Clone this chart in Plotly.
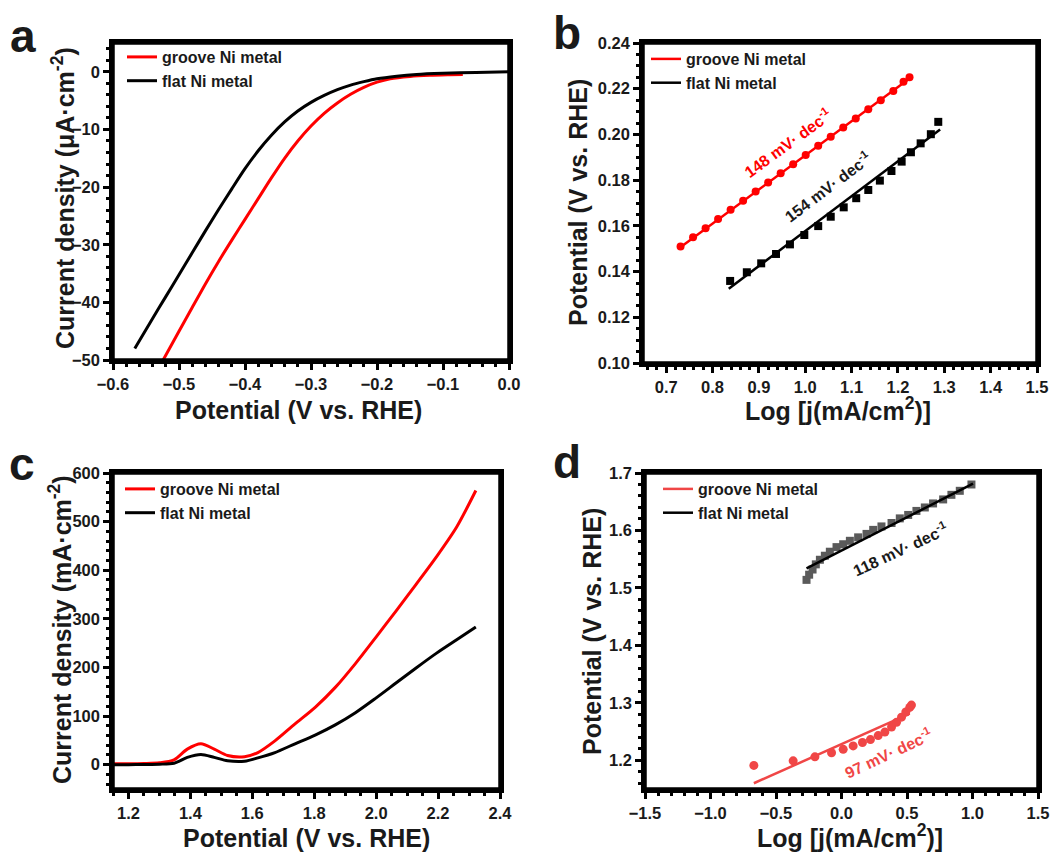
import plotly.graph_objects as go

W, H = 1064, 854

# ---------------- data ----------------
# panel a (HER LSV)
a_groove_x = [-0.524, -0.50, -0.48, -0.46, -0.44, -0.42, -0.40, -0.38, -0.36, -0.34, -0.32, -0.30, -0.28, -0.26, -0.24, -0.22, -0.20, -0.18, -0.15, -0.12, -0.09, -0.07]
a_groove_y = [-50.0, -45.0, -40.9, -36.8, -32.9, -29.2, -25.6, -22.0, -18.4, -15.0, -12.0, -9.4, -7.2, -5.4, -3.9, -2.7, -1.8, -1.2, -0.8, -0.6, -0.5, -0.45]
a_flat_x = [-0.567, -0.54, -0.52, -0.50, -0.48, -0.46, -0.44, -0.42, -0.40, -0.38, -0.36, -0.34, -0.32, -0.30, -0.28, -0.26, -0.24, -0.22, -0.20, -0.17, -0.14, -0.10, -0.05, 0.0]
a_flat_y = [-48.0, -42.8, -39.0, -35.2, -31.4, -27.6, -23.9, -20.3, -16.8, -13.7, -11.0, -8.7, -6.8, -5.3, -4.1, -3.1, -2.3, -1.7, -1.2, -0.75, -0.45, -0.25, -0.1, 0.0]

# panel b (HER Tafel)
b_groove_x = [0.731, 0.758, 0.785, 0.812, 0.839, 0.866, 0.893, 0.920, 0.947, 0.974, 1.001, 1.028, 1.055, 1.082, 1.109, 1.136, 1.163, 1.190, 1.212, 1.225]
b_groove_y = [0.151, 0.155, 0.159, 0.163, 0.167, 0.171, 0.175, 0.179, 0.183, 0.187, 0.191, 0.195, 0.199, 0.203, 0.207, 0.211, 0.215, 0.219, 0.223, 0.225]
b_groove_fit_x = [0.73, 1.225]
b_groove_fit_y = [0.1505, 0.2245]
b_flat_x = [0.838, 0.874, 0.905, 0.937, 0.967, 0.998, 1.028, 1.055, 1.083, 1.110, 1.136, 1.161, 1.186, 1.208, 1.228, 1.249, 1.271, 1.287]
b_flat_y = [0.1359, 0.1397, 0.1436, 0.1477, 0.1519, 0.1560, 0.1599, 0.1640, 0.1681, 0.1721, 0.1757, 0.1798, 0.1840, 0.1881, 0.1922, 0.1961, 0.2001, 0.2055]
b_flat_fit_x = [0.835, 1.291]
b_flat_fit_y = [0.1325, 0.2022]

# panel c (OER LSV)
c_groove_x = [1.14, 1.20, 1.25, 1.30, 1.347, 1.39, 1.434, 1.477, 1.52, 1.575, 1.618, 1.673, 1.738, 1.803, 1.868, 1.933, 1.999, 2.064, 2.129, 2.194, 2.26, 2.322]
c_groove_y = [2, 2, 2.5, 4, 10, 32, 43, 32, 19, 16.5, 25, 49, 84, 118, 159, 208, 262, 316, 371, 427, 489, 564]
c_flat_x = [1.14, 1.20, 1.25, 1.30, 1.347, 1.39, 1.434, 1.477, 1.52, 1.575, 1.618, 1.673, 1.738, 1.803, 1.868, 1.933, 1.999, 2.064, 2.129, 2.194, 2.26, 2.322]
c_flat_y = [0, 0, 0.5, 1, 3, 15, 21, 15, 8, 7, 14, 25, 43, 61, 82, 107, 137, 168, 199, 229, 257, 283]

# panel d (OER Tafel)
d_groove_x = [-0.669, -0.369, -0.203, -0.076, 0.013, 0.089, 0.160, 0.221, 0.280, 0.331, 0.382, 0.420, 0.458, 0.491, 0.521, 0.534]
d_groove_y = [1.191, 1.199, 1.206, 1.213, 1.219, 1.225, 1.231, 1.236, 1.243, 1.249, 1.258, 1.266, 1.275, 1.284, 1.292, 1.296]
d_groove_fit_x = [-0.669, 0.521]
d_groove_fit_y = [1.160, 1.281]
d_flat_x = [-0.267, -0.247, -0.221, -0.196, -0.165, -0.127, -0.089, -0.038, 0.013, 0.064, 0.127, 0.191, 0.242, 0.305, 0.382, 0.445, 0.509, 0.572, 0.636, 0.699, 0.776, 0.839, 0.903, 0.992]
d_flat_y = [1.514, 1.523, 1.532, 1.541, 1.549, 1.556, 1.563, 1.571, 1.576, 1.582, 1.588, 1.594, 1.601, 1.607, 1.613, 1.621, 1.627, 1.634, 1.640, 1.647, 1.654, 1.662, 1.669, 1.680]
d_flat_fit_x = [-0.267, 1.004]
d_flat_fit_y = [1.534, 1.6815]

labels = ["groove Ni metal", "flat Ni metal"]

# ---------------- style ----------------
FONT = "Liberation Sans, Arial, sans-serif"
RED = "#ff0000"
RED_D = "#f04646"
GREY_D = "#5a5a5a"
INK = "#1a1a1a"


def px_x(p):
    return p / W


def px_y(p):
    return 1 - p / H


fig = go.Figure()

# panel a
fig.add_trace(go.Scatter(x=a_groove_x, y=a_groove_y, mode="lines", line=dict(color=RED, width=3, shape="spline", smoothing=0.8),
                         name=labels[0], xaxis="x", yaxis="y", legend="legend"))
fig.add_trace(go.Scatter(x=a_flat_x, y=a_flat_y, mode="lines", line=dict(color="black", width=3, shape="spline", smoothing=0.8),
                         name=labels[1], xaxis="x", yaxis="y", legend="legend"))
# panel b
fig.add_trace(go.Scatter(x=b_groove_x, y=b_groove_y, mode="markers", marker=dict(color=RED, size=8, symbol="circle"),
                         showlegend=False, xaxis="x2", yaxis="y2"))
fig.add_trace(go.Scatter(x=b_groove_fit_x, y=b_groove_fit_y, mode="lines", line=dict(color=RED, width=2.5),
                         name=labels[0], xaxis="x2", yaxis="y2", legend="legend2"))
fig.add_trace(go.Scatter(x=b_flat_x, y=b_flat_y, mode="markers", marker=dict(color="black", size=8, symbol="square"),
                         showlegend=False, xaxis="x2", yaxis="y2"))
fig.add_trace(go.Scatter(x=b_flat_fit_x, y=b_flat_fit_y, mode="lines", line=dict(color="black", width=2.5),
                         name=labels[1], xaxis="x2", yaxis="y2", legend="legend2"))
# panel c
fig.add_trace(go.Scatter(x=c_groove_x, y=c_groove_y, mode="lines", line=dict(color=RED, width=3, shape="spline", smoothing=0.8),
                         name=labels[0], xaxis="x3", yaxis="y3", legend="legend3"))
fig.add_trace(go.Scatter(x=c_flat_x, y=c_flat_y, mode="lines", line=dict(color="black", width=3, shape="spline", smoothing=0.8),
                         name=labels[1], xaxis="x3", yaxis="y3", legend="legend3"))
# panel d
fig.add_trace(go.Scatter(x=d_groove_x, y=d_groove_y, mode="markers", marker=dict(color=RED_D, size=9, symbol="circle"),
                         showlegend=False, xaxis="x4", yaxis="y4"))
fig.add_trace(go.Scatter(x=d_groove_fit_x, y=d_groove_fit_y, mode="lines", line=dict(color=RED_D, width=2.5),
                         name=labels[0], xaxis="x4", yaxis="y4", legend="legend4"))
fig.add_trace(go.Scatter(x=d_flat_x, y=d_flat_y, mode="markers", marker=dict(color=GREY_D, size=8, symbol="square"),
                         showlegend=False, xaxis="x4", yaxis="y4"))
fig.add_trace(go.Scatter(x=d_flat_fit_x, y=d_flat_fit_y, mode="lines", line=dict(color="black", width=2.5),
                         name=labels[1], xaxis="x4", yaxis="y4", legend="legend4"))


def ax(domain, rng, dtick, tick0, fmt, anchor):
    return dict(domain=domain, range=rng, dtick=dtick, tick0=tick0, tickformat=fmt, anchor=anchor,
                showline=True, linecolor="black", linewidth=3.5, mirror=True,
                ticks="outside", ticklen=6, tickwidth=2.5, tickcolor="black",
                minor=dict(ticks="outside", ticklen=3.5, tickwidth=2.5, tickcolor="black", showgrid=False),
                showgrid=False, zeroline=False, automargin=False,
                tickfont=dict(family=FONT, size=16.5, color=INK, weight="bold"))


boxes = {
    "a": (113, 509, 43, 360),
    "b": (643, 1037, 43, 363),
    "c": (113, 500, 473, 789),
    "d": (645, 1038, 473, 789),
}


def dom(b):
    l, r, t, bt = b
    return [px_x(l), px_x(r)], [px_y(bt), px_y(t)]


xa, ya = dom(boxes["a"])
xb, yb = dom(boxes["b"])
xc, yc = dom(boxes["c"])
xd, yd = dom(boxes["d"])

legend_common = dict(bgcolor="rgba(0,0,0,0)", borderwidth=0, xanchor="left", yanchor="top",
                     font=dict(family=FONT, size=16, color=INK, weight="bold"),
                     tracegroupgap=0, itemwidth=30)

fig.update_layout(
    template="none",
    width=W, height=H, margin=dict(l=0, r=0, t=0, b=0, autoexpand=False),
    paper_bgcolor="white", plot_bgcolor="white",
    font=dict(family=FONT, color="black"),
    xaxis=ax(xa, [-0.6, 0.0], 0.1, 0, ".1f", "y"),
    yaxis=ax(ya, [-50, 5], 10, 0, "d", "x"),
    xaxis2=ax(xb, [0.65, 1.5], 0.1, 0.7, ".1f", "y2"),
    yaxis2=ax(yb, [0.10, 0.24], 0.02, 0.10, ".2f", "x2"),
    xaxis3=ax(xc, [1.15, 2.4], 0.2, 1.2, ".1f", "y3"),
    yaxis3=ax(yc, [-50, 600], 100, 0, "d", "x3"),
    xaxis4=ax(xd, [-1.5, 1.5], 0.5, 0, ".1f", "y4"),
    yaxis4=ax(yd, [1.15, 1.7], 0.1, 1.2, ".1f", "x4"),
    legend=dict(x=px_x(122), y=px_y(40), **legend_common),
    legend2=dict(x=px_x(646), y=px_y(42), **legend_common),
    legend3=dict(x=px_x(120), y=px_y(472), **legend_common),
    legend4=dict(x=px_x(658), y=px_y(472), **legend_common),
)

# heavy frame around each plot area
shapes = []
for xr, yr in [("x", "y"), ("x2", "y2"), ("x3", "y3"), ("x4", "y4")]:
    shapes.append(dict(type="rect", xref=f"{xr} domain", yref=f"{yr} domain", x0=0, x1=1, y0=0, y1=1,
                       line=dict(color="black", width=3.5), fillcolor="rgba(0,0,0,0)", layer="above"))
fig.update_layout(shapes=shapes)

ann = []


def text(x, y, s, size=25, angle=0, color=INK, xanchor="center", yanchor="middle"):
    ann.append(dict(x=px_x(x), y=px_y(y), xref="paper", yref="paper", text=s, showarrow=False,
                    textangle=angle, xanchor=xanchor, yanchor=yanchor,
                    font=dict(family=FONT, size=size, color=color, weight="bold")))


# axis titles
text(298, 410, "Potential (V vs. RHE)")
text(63, 198, "Current density (μA·cm<sup>-2</sup>)", angle=-90)
text(838, 409, "Log [j(mA/cm<sup>2</sup>)]")
text(578, 203, "Potential (V vs. RHE)", angle=-90)
text(306, 838, "Potential (V vs. RHE)")
text(60, 630, "Current density (mA·cm<sup>-2</sup>)", angle=-90)
text(850, 836, "Log [j(mA/cm<sup>2</sup>)]")
text(592, 632, "Potential (V vs. RHE)", angle=-90)

# panel letters
text(23, 36, "a", size=46)
text(567, 33, "b", size=46)
text(22, 464, "c", size=46)
text(567, 462, "d", size=46)

# slope annotations
text(787, 143, "148 mV· dec<sup>-1</sup>", size=16, angle=-36, color=RED)
text(827, 187, "154 mV· dec<sup>-1</sup>", size=16, angle=-37, color=INK)
text(900, 549, "118 mV· dec<sup>-1</sup>", size=16, angle=-25, color=INK)
text(888, 753, "97 mV· dec<sup>-1</sup>", size=16, angle=-25, color=RED_D)

fig.update_layout(annotations=ann)
fig.write_html("out.html",
               post_script="document.body.style.margin='0';document.body.style.overflow='hidden';document.documentElement.style.overflow='hidden';")
